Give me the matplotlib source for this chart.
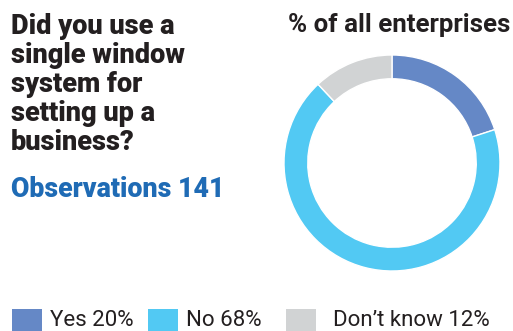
import matplotlib.pyplot as plt
from matplotlib.patches import Rectangle

plt.rcParams["font.family"] = ["Roboto", "DejaVu Sans"]

# survey answers
labels = ["Yes", "No", "Don\u2019t know"]
shares = [20, 68, 12]
colors = ["#6588c6", "#52c9f3", "#d1d3d4"]

question = "Did you use a\nsingle window\nsystem for\nsetting up a\nbusiness?"
observations = 141

W, H = 513, 331
fig = plt.figure(figsize=(W / 100, H / 100), dpi=100)

# donut
cx, cy, r = 392, 163, 108
ax = fig.add_axes([(cx - r) / W, 1 - (cy + r) / H, 2 * r / W, 2 * r / H])
ax.pie(
    shares,
    colors=colors,
    startangle=90,
    counterclock=False,
    radius=1,
    wedgeprops=dict(width=0.22, edgecolor="white", linewidth=1),
)
ax.set_xlim(-1, 1)
ax.set_ylim(-1, 1)
ax.set_aspect("equal")
ax.axis("off")

fig.text(288 / W, 1 - 32 / H, "% of all enterprises", ha="left",
         va="baseline", fontsize=18.6, fontweight="bold", color="#231f20")

# question, one line at a time
for i, line in enumerate(question.split("\n")):
    fig.text(11 / W, 1 - (33.5 + 29.2 * i) / H, line, ha="left",
             va="baseline", fontsize=19.5, fontweight=900,
             color="#231f20")

fig.text(11 / W, 1 - 197 / H, f"Observations {observations}", ha="left",
         va="baseline", fontsize=19.3, fontweight=900, color="#1f6bb5")

# legend row
box_x = [12, 148, 286]
text_x = [50, 186, 333]
for lab, val, col, bx, tx in zip(labels, shares, colors, box_x, text_x):
    fig.add_artist(Rectangle((bx / W, 1 - 331 / H), 30 / W, 22 / H,
                             transform=fig.transFigure, facecolor=col,
                             edgecolor="none"))
    fig.text(tx / W, 1 - 326 / H, f"{lab} {val}%", ha="left", va="baseline",
             fontsize=16, color="#231f20")

fig.savefig("out.png", dpi=100)
